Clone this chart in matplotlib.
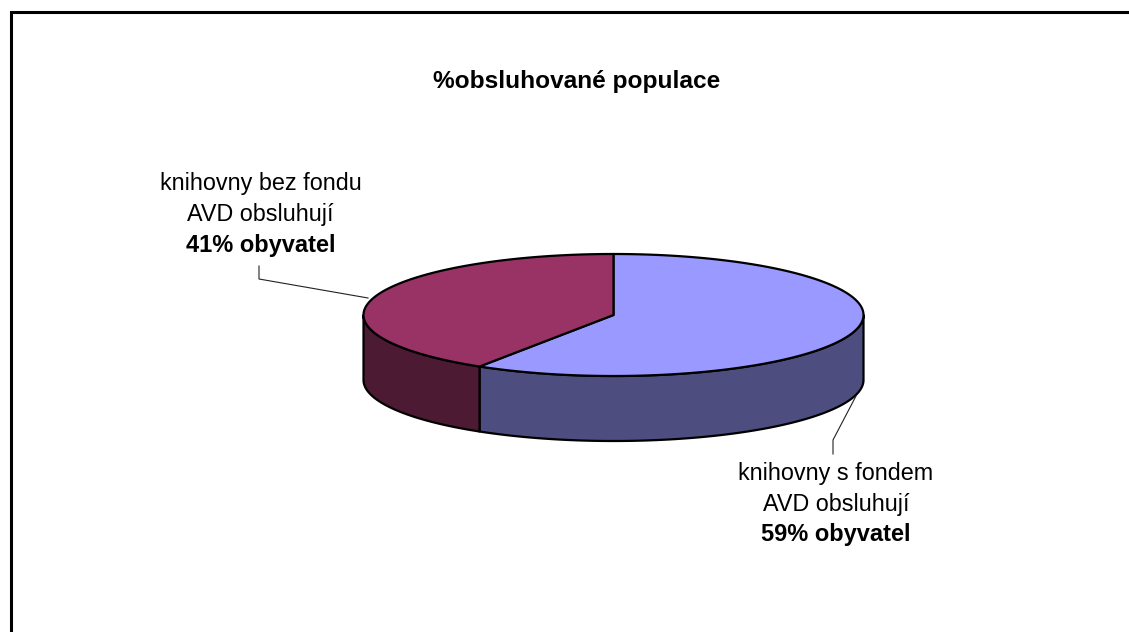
import numpy as np
import matplotlib
matplotlib.use("Agg")
import matplotlib.pyplot as plt
from matplotlib.patches import Polygon

# values of the slices, clockwise from 12 o'clock
values = [59, 41]
top_colors = ["#9999ff", "#993366"]
side_colors = ["#4d4d80", "#4d1a33"]
title = "%obsluhované populace"
label_lines = [
    ["knihovny s fondem", "AVD obsluhují", "59% obyvatel"],
    ["knihovny bez fondu", "AVD obsluhují", "41% obyvatel"],
]

plt.rcParams["font.family"] = ["Liberation Sans", "DejaVu Sans"]

fig = plt.figure(figsize=(11.29, 6.32), dpi=100)
ax = fig.add_axes([0, 0, 1, 1])
ax.set_xlim(0, 1129)
ax.set_ylim(632, 0)
ax.axis("off")

# pie geometry in pixels
cx, cy = 613.5, 315
rx, ry = 250, 61
depth = 65


def rim(t):
    return cx + rx * np.sin(t), cy - ry * np.cos(t)


angles = np.cumsum([0] + values) / sum(values) * 2 * np.pi

# side walls first (only the front half is visible)
for i in range(len(values)):
    a0 = max(angles[i], np.pi / 2)
    a1 = min(angles[i + 1], 3 * np.pi / 2)
    if a1 <= a0:
        continue
    t = np.linspace(a0, a1, 200)
    x, y = rim(t)
    pts = np.column_stack([np.r_[x, x[::-1]], np.r_[y, y[::-1] + depth]])
    ax.add_patch(Polygon(pts, closed=True, fc=side_colors[i], ec="black", lw=1.6, joinstyle="round"))

# top slices
for i in range(len(values)):
    t = np.linspace(angles[i], angles[i + 1], 300)
    x, y = rim(t)
    pts = np.column_stack([np.r_[cx, x], np.r_[cy, y]])
    ax.add_patch(Polygon(pts, closed=True, fc=top_colors[i], ec="black", lw=1.6, joinstyle="round"))

# chart frame
ax.plot([10.5, 10.5, 1129], [632, 11.5, 11.5], color="black", lw=2.2, solid_joinstyle="miter")

ax.text(577, 88, title, fontsize=17.6, fontweight="bold", ha="center", va="baseline")

# leader lines
ax.plot([259, 259, 368], [266, 279, 298], color="#222222", lw=0.8)
ax.plot([856, 833, 833], [396, 440, 454], color="#222222", lw=0.8)

# data labels
label_pos = [(836, [480, 511, 541]), (260.5, [190, 221, 252])]
for lines, (lx, ys) in zip(label_lines, label_pos):
    for j, (line, ly) in enumerate(zip(lines, ys)):
        ax.text(lx, ly, line, fontsize=17 if j == 2 else 16.8, ha="center", va="baseline",
                fontweight="bold" if j == 2 else "normal")

fig.savefig("out.png", dpi=100)
